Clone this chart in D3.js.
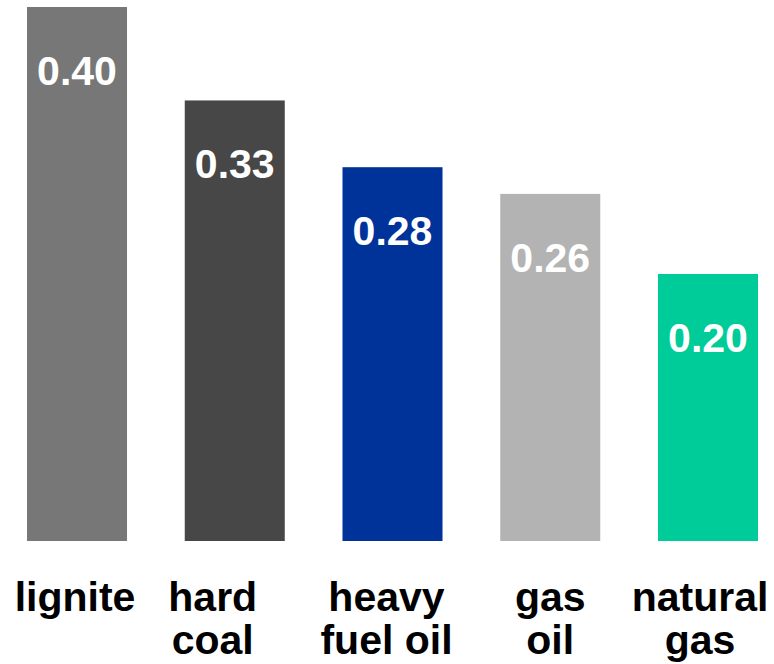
<!DOCTYPE html>
<html>
<head>
<meta charset="utf-8">
<script src="https://cdn.jsdelivr.net/npm/d3@7"></script>
<style>
  html, body { margin: 0; padding: 0; background: #fff; }
  svg { display: block; }
  text { font-family: "Liberation Sans", Arial, sans-serif; font-weight: bold; }
</style>
</head>
<body>
<svg id="chart"></svg>
<script>
// data
const categories = ["lignite", "hard coal", "heavy fuel oil", "gas oil", "natural gas"];
const labelLines = [["lignite"], ["hard", "coal"], ["heavy", "fuel oil"], ["gas", "oil"], ["natural", "gas"]];
const values = [0.40, 0.33, 0.28, 0.26, 0.20];
const colors = ["#777777", "#474747", "#003399", "#b3b3b3", "#00cc99"];

const width = 774, height = 664;
// small nudges so the category text sits like the original text boxes
const labelDx = [-2, -22, -6, 0, -8];

const svg = d3.select("#chart")
  .attr("width", width)
  .attr("height", height);

const x = d3.scaleBand()
  .domain(categories)
  .range([27, 758])
  .paddingInner(0.366)
  .paddingOuter(0);

const y = d3.scaleLinear()
  .domain([0, 0.40])
  .range([541, 7]);

const data = categories.map((c, i) => ({ cat: c, value: values[i], color: colors[i], lines: labelLines[i], dx: labelDx[i] }));

// bars
svg.append("g")
  .selectAll("rect")
  .data(data)
  .join("rect")
    .attr("x", d => x(d.cat))
    .attr("y", d => y(d.value))
    .attr("width", x.bandwidth())
    .attr("height", d => y(0) - y(d.value))
    .attr("fill", d => d.color);

// value labels inside the bars
svg.append("g")
  .selectAll("text")
  .data(data)
  .join("text")
    .attr("x", d => x(d.cat) + x.bandwidth() / 2)
    .attr("y", d => y(d.value) + 78)
    .attr("text-anchor", "middle")
    .attr("fill", "#fff")
    .style("font-size", "41px")
    .text(d => d3.format(".2f")(d.value));

// category labels under the bars
const lab = svg.append("g")
  .selectAll("text")
  .data(data)
  .join("text")
    .attr("x", d => x(d.cat) + x.bandwidth() / 2 + d.dx)
    .attr("y", 611)
    .attr("text-anchor", "middle")
    .attr("fill", "#000")
    .style("font-size", "41px");

lab.selectAll("tspan")
  .data(d => d.lines.map(l => ({ l, x: x(d.cat) + x.bandwidth() / 2 + d.dx })))
  .join("tspan")
    .attr("x", t => t.x)
    .attr("dy", (t, i) => i === 0 ? 0 : 43)
    .text(t => t.l);
</script>
</body>
</html>
